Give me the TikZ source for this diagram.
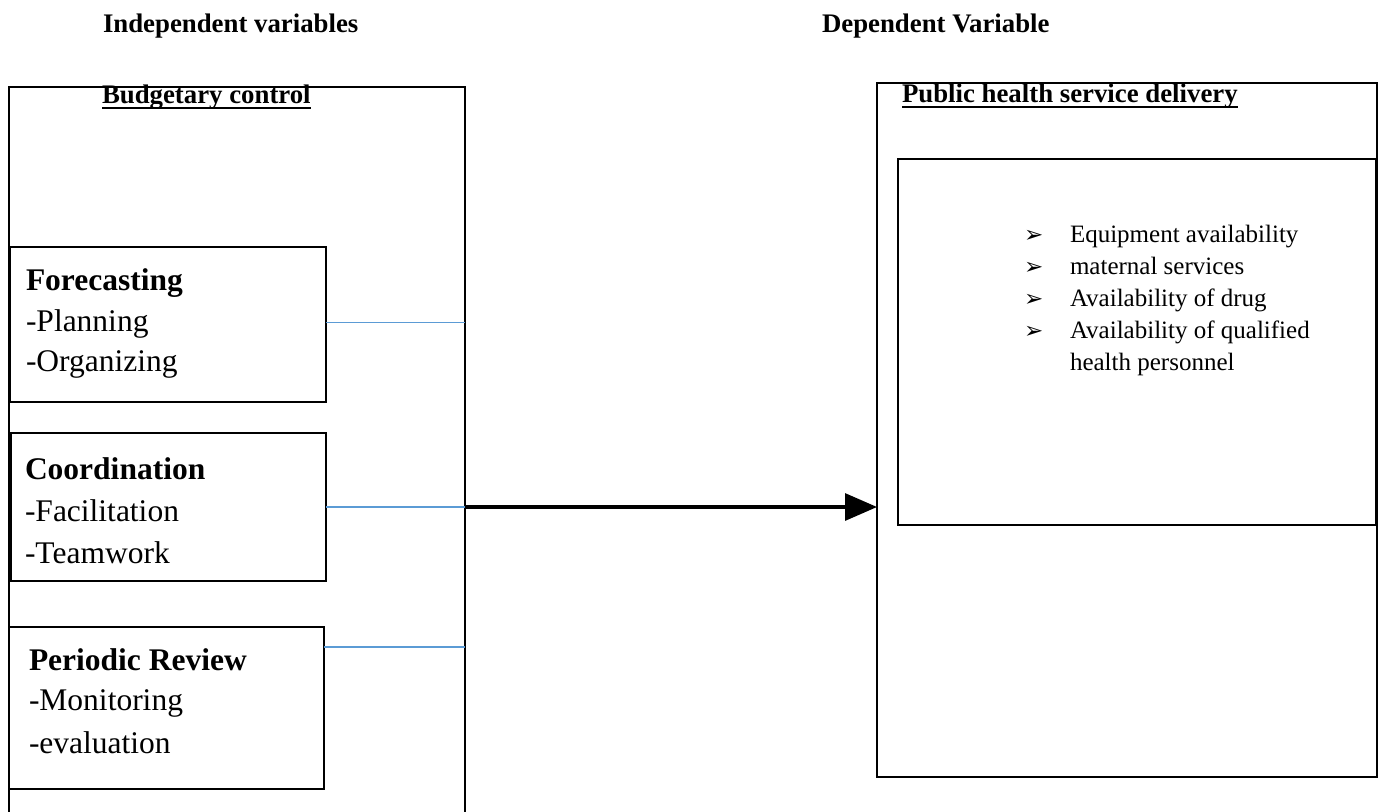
\documentclass[tikz,border=0pt]{standalone}
\usepackage{fontspec}
\setmainfont{Liberation Serif}
\newfontfamily\symfont{DejaVu Sans}
\usetikzlibrary{arrows.meta}
\definecolor{linkblue}{RGB}{91,155,213}

\begin{document}
\begin{tikzpicture}[x=1pt,y=-1pt,
  every node/.style={inner sep=0pt, outer sep=0pt},
  heading/.style={font=\fontsize{26.8}{30}\selectfont\bfseries, anchor=base west},
  frame/.style={draw, line width=1.6pt, anchor=north west},
  subbox/.style={draw, line width=1.5pt, anchor=north west},
  subtitle/.style={font=\fontsize{31.5}{36}\selectfont\bfseries, anchor=base west},
  subitem/.style={font=\fontsize{31.5}{36}\selectfont, anchor=base west},
  link/.style={draw=linkblue, line width=1.3pt},
  underl/.style={line width=1.8pt},
  mainarrow/.style={line width=3.2pt, -{Triangle[length=32pt,width=27pt]}}]

\useasboundingbox[fill=white] (0,0) rectangle (1399,811);

% column headings
\node[heading] (hind) at (103,32) {Independent variables};
\node[heading] (hdep) at (822,32) {Dependent Variable};

% left frame: budgetary control (open at the bottom of the page)
\node[anchor=north west, minimum width=456pt, minimum height=730pt] (iv) at (9,87) {};
\draw[line width=1.6pt] (iv.south west) |- (iv.north east) -- (iv.south east);
\node[heading] (ivt) at (102,103) {Budgetary control};
\draw[underl] ([yshift=-5pt]ivt.base west) -- ([yshift=-5pt]ivt.base east);

% forecasting
\node[subbox, minimum width=316pt, minimum height=155pt] (fc) at (10,247) {};
\node[subtitle] (fct) at (26,290) {Forecasting};
\node[subitem] (fc1) at (26,331) {-Planning};
\node[subitem] (fc2) at (26,371) {-Organizing};

% coordination
\node[subbox, minimum width=315pt, minimum height=148pt] (cd) at (11,433) {};
\node[subtitle] (cdt) at (25,479) {Coordination};
\node[subitem] (cd1) at (25,521) {-Facilitation};
\node[subitem] (cd2) at (25,563) {-Teamwork};

% periodic review
\node[subbox, minimum width=315pt, minimum height=162pt] (pr) at (9,627) {};
\node[subtitle] (prt) at (29,670) {Periodic Review};
\node[subitem] (pr1) at (29,710) {-Monitoring};
\node[subitem] (pr2) at (29,753) {-evaluation};

% links from the sub-boxes to the frame edge
\draw[link] ([yshift=2pt]fc.east) -- ([yshift=2pt]fc.east -| iv.east);
\draw[link] (cd.east) -- (cd.east -| iv.east);
\draw[link] ([yshift=-20pt]pr.north east) -- ([yshift=-20pt]pr.north east -| iv.east);

% right frame: public health service delivery
\node[frame, minimum width=500pt, minimum height=694pt] (dv) at (877,83) {};
\node[heading] (dvt) at (902,102) {Public health service delivery};
\draw[underl] ([yshift=-5pt]dvt.base west) -- ([yshift=-5pt]dvt.base east);

\node[draw, line width=2.6pt, anchor=north west, minimum width=478pt, minimum height=366pt] (ib) at (898,159) {};
\node[anchor=base west, font=\fontsize{25}{32}\selectfont] (items) at (1024,242) {%
  \begin{tabular}[t]{@{}p{46pt}@{}l@{}}
  {\symfont\fontsize{23}{32}\selectfont ➢} & Equipment availability\\
  {\symfont\fontsize{23}{32}\selectfont ➢} & maternal services\\
  {\symfont\fontsize{23}{32}\selectfont ➢} & Availability of drug\\
  {\symfont\fontsize{23}{32}\selectfont ➢} & Availability of qualified\\
   & health personnel
  \end{tabular}};

% main relationship
\draw[mainarrow] (cd.east -| iv.east) -- (cd.east -| dv.west);

\end{tikzpicture}
\end{document}
